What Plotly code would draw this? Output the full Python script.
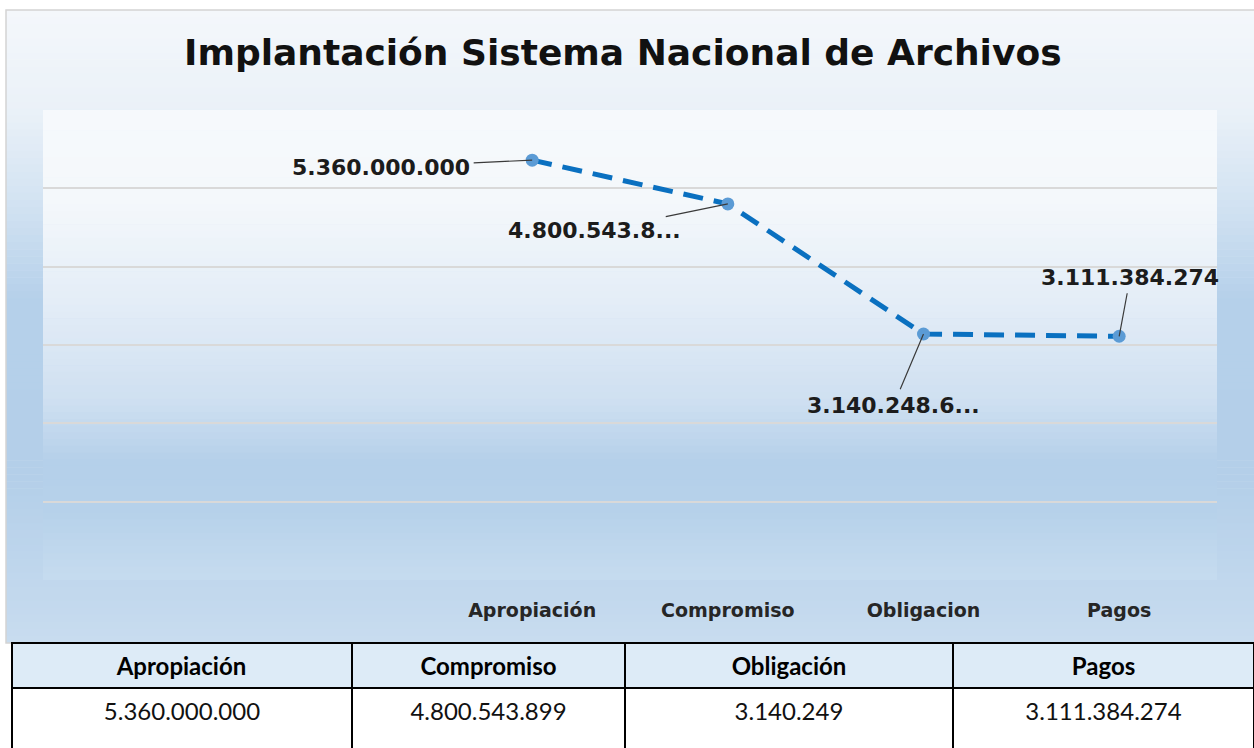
import plotly.graph_objects as go

# ---------------- data ----------------
categories = ["Apropiación", "Compromiso", "Obligacion", "Pagos"]
values = [5360000000, 4800543899, 3140248650, 3111384274]
point_labels = ["5.360.000.000", "4.800.543.8...", "3.140.248.6...", "3.111.384.274"]
table_headers = ["Apropiación", "Compromiso", "Obligación", "Pagos"]
table_values = ["5.360.000.000", "4.800.543.899", "3.140.249", "3.111.384.274"]
title_text = "Implantación Sistema Nacional de Archivos"
x_slots = [2, 3, 4, 5]  # two empty category slots precede the data in the source chart

W, H = 1254, 748


def px_x(x):
    return x / W


def px_y(y):
    return 1 - y / H


def hex2rgb(h):
    h = h.lstrip("#")
    return tuple(int(h[i:i + 2], 16) for i in (0, 2, 4))


def gradient_bands(x0, x1, stops, n):
    shapes = []
    y_top, y_bot = stops[0][0], stops[-1][0]
    step = (y_bot - y_top) / n
    for i in range(n):
        ya = y_top + i * step
        yb = ya + step
        ym = (ya + yb) / 2
        for j in range(len(stops) - 1):
            if stops[j][0] <= ym <= stops[j + 1][0]:
                t = (ym - stops[j][0]) / (stops[j + 1][0] - stops[j][0])
                c0, c1 = hex2rgb(stops[j][1]), hex2rgb(stops[j + 1][1])
                c = tuple(round(c0[k] + (c1[k] - c0[k]) * t) for k in range(3))
                break
        shapes.append(dict(type="rect", xref="paper", yref="paper",
                           x0=px_x(x0), x1=px_x(x1), y0=px_y(min(yb + 0.6, y_bot)), y1=px_y(ya),
                           fillcolor="rgb(%d,%d,%d)" % c, line=dict(width=0), layer="below"))
    return shapes


shapes = []
# outer chart area gradient
shapes += gradient_bands(6, 1256, [(10, "#f4f7fb"), (110, "#eaf1f8"), (200, "#d3e3f2"),
                                   (300, "#b5d0ea"), (480, "#b4cfe9"), (643, "#c8dcef")], 90)
# frame border
shapes.append(dict(type="rect", xref="paper", yref="paper", x0=px_x(6), x1=px_x(1258),
                   y0=px_y(643), y1=px_y(10), line=dict(color="#d4d4d4", width=1.5),
                   fillcolor="rgba(0,0,0,0)", layer="below"))
# plot area gradient
shapes += gradient_bands(43, 1217, [(110, "#f6f9fc"), (200, "#f4f8fb"), (300, "#e4edf7"),
                                    (400, "#cfe0f1"), (460, "#b5d0ea"), (510, "#b6d1ea"),
                                    (580, "#c6dbef")], 70)

fig = go.Figure()

fig.add_trace(go.Scatter(
    x=x_slots, y=values, mode="lines+markers",
    line=dict(color="#0a70c0", width=5, dash="20px,11px"),
    marker=dict(size=13, color="#5b9bd5"),
    hoverinfo="skip", showlegend=False,
))

# data labels with leader lines (offsets in pixels)
offsets = [(-151, 7), (-133, 27), (-30, 71), (11, -59)]
annotations = []
for xs, v, lab, (ax, ay) in zip(x_slots, values, point_labels, offsets):
    annotations.append(dict(
        x=xs, y=v, xref="x", yref="y", text="<b>%s</b>" % lab,
        showarrow=True, arrowhead=0, arrowwidth=1.2, arrowcolor="#3a3a3a",
        ax=ax, ay=ay, standoff=0, startstandoff=2,
        font=dict(family="DejaVu Sans", size=22, color="#1c1c1c"),
    ))

annotations.append(dict(
    x=623 / W, y=px_y(52), xref="paper", yref="paper", text="<b>%s</b>" % title_text,
    showarrow=False, xanchor="center", yanchor="middle",
    font=dict(family="DejaVu Sans", size=36, color="#111111"),
))

cell_px = 24
fig.add_trace(go.Table(
    domain=dict(x=[px_x(12), 1.0], y=[0, px_y(643)]),
    columnwidth=[340, 273, 328, 301],
    header=dict(values=["<b>%s</b>" % h for h in table_headers],
                fill_color="#ddebf7", line=dict(color="black", width=2.5),
                align="center", height=40,
                font=dict(family="Lato", size=cell_px, color="black")),
    cells=dict(values=[["<br><span style='font-size:%dpx'>%s</span>" % (cell_px, v)] for v in table_values],
               fill_color="white", line=dict(color="black", width=2.5),
               align="center", height=66,
               font=dict(family="Lato", size=14, color="#111111")),
))

fig.update_layout(
    width=W, height=H, margin=dict(l=0, r=0, t=0, b=0),
    paper_bgcolor="white", plot_bgcolor="rgba(0,0,0,0)",
    shapes=shapes, annotations=annotations, showlegend=False,
    xaxis=dict(domain=[px_x(43), px_x(1217)], range=[-0.5, 5.5],
               tickvals=x_slots, ticktext=["<b>%s</b>" % c for c in categories],
               showgrid=False, zeroline=False, showline=False, ticks="",
               ticklabelstandoff=17,
               tickfont=dict(family="DejaVu Sans", size=19, color="#262626"), fixedrange=True),
    yaxis=dict(domain=[px_y(580), px_y(110)], range=[0, 6e9], dtick=1e9,
               showgrid=True, gridcolor="#d9d9d9", gridwidth=1.5,
               zeroline=False, showline=False, showticklabels=False, fixedrange=True),
)

fig.write_html("out.html", config={"displayModeBar": False},
               post_script="document.body.style.margin='0';document.body.style.overflow='hidden';")
